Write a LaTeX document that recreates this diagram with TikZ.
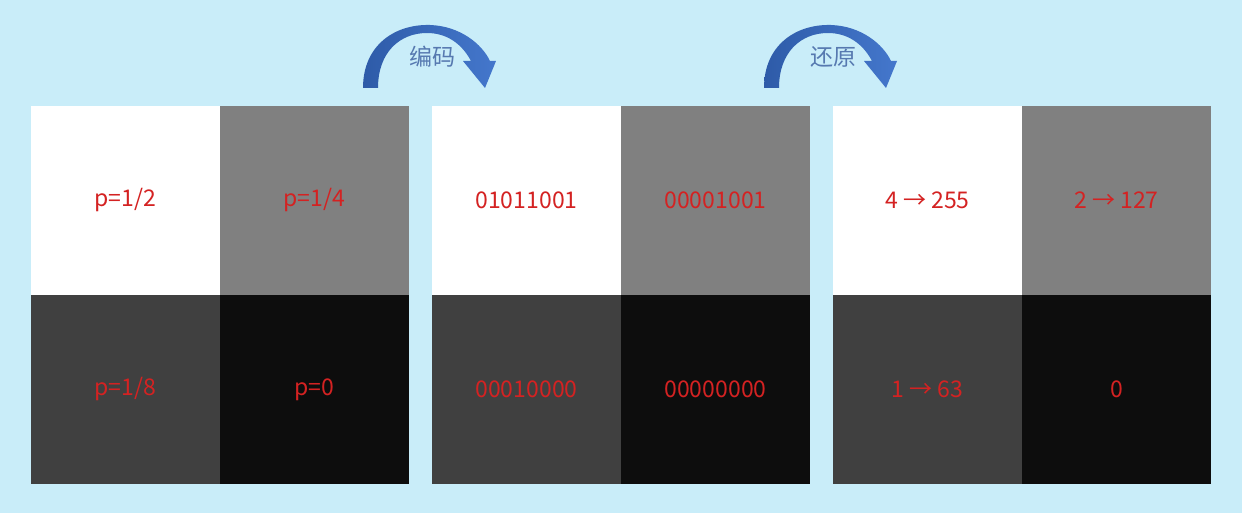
\documentclass[tikz,border=0pt]{standalone}
\usepackage{fontspec}
\setmainfont{Noto Sans CJK SC}
\definecolor{bg}{HTML}{C9EDF9}
\definecolor{cwhite}{HTML}{FFFFFF}
\definecolor{cgray}{HTML}{808080}
\definecolor{cdark}{HTML}{404040}
\definecolor{cblack}{HTML}{0D0D0D}
\definecolor{txtred}{HTML}{D42222}
\definecolor{arrowdark}{HTML}{2E5BA8}
\definecolor{arrowlight}{HTML}{4477CC}
\definecolor{lblblue}{HTML}{5679B0}
\begin{document}
\begin{tikzpicture}[x=1pt,y=-1pt,
  cell/.style={minimum width=189pt,minimum height=189pt,inner sep=0pt,outer sep=0pt,anchor=north west,font=\fontsize{23}{26}\selectfont,text=txtred},
  lbl/.style={font=\fontsize{23}{26}\selectfont,text=lblblue},
  bigarrow/.style={left color=arrowdark,right color=arrowlight,draw=none}]
\fill[bg] (0,0) rectangle (1242,513);
\useasboundingbox (0,0) rectangle (1242,513);
% grid 1
\node[cell,fill=cwhite] (a1) at (31,106) {p=1/2};
\node[cell,fill=cgray]  (a2) at (220,106) {p=1/4};
\node[cell,fill=cdark]  (a3) at (31,295) {p=1/8};
\node[cell,fill=cblack] (a4) at (220,295) {p=0};
% grid 2
\node[cell,fill=cwhite] (b1) at (432,106) {01011001};
\node[cell,fill=cgray]  (b2) at (621,106) {00001001};
\node[cell,fill=cdark]  (b3) at (432,295) {00010000};
\node[cell,fill=cblack] (b4) at (621,295) {00000000};
% grid 3
\node[cell,fill=cwhite] (c1) at (833,106) {4 → 255};
\node[cell,fill=cgray]  (c2) at (1022,106) {2 → 127};
\node[cell,fill=cdark]  (c3) at (833,295) {1 → 63};
\node[cell,fill=cblack] (c4) at (1022,295) {0};
% curved arrows
\foreach \dx in {0,401}{
  \begin{scope}[shift={(\dx,0)}]
  \path[bigarrow] (363,88) .. controls (363,45) and (395,24) .. (430,25)
     .. controls (460,26) and (482,44) .. (490,61)
     -- (496,61) -- (485,88) -- (463,61) -- (471,61)
     .. controls (462,44) and (447,33) .. (427,33)
     .. controls (400,33) and (378,52) .. (378,88) -- cycle;
  \end{scope}
}
\node[lbl] (t1) at (432,57) {编码};
\node[lbl] (t2) at (833,57) {还原};
\end{tikzpicture}
\end{document}
